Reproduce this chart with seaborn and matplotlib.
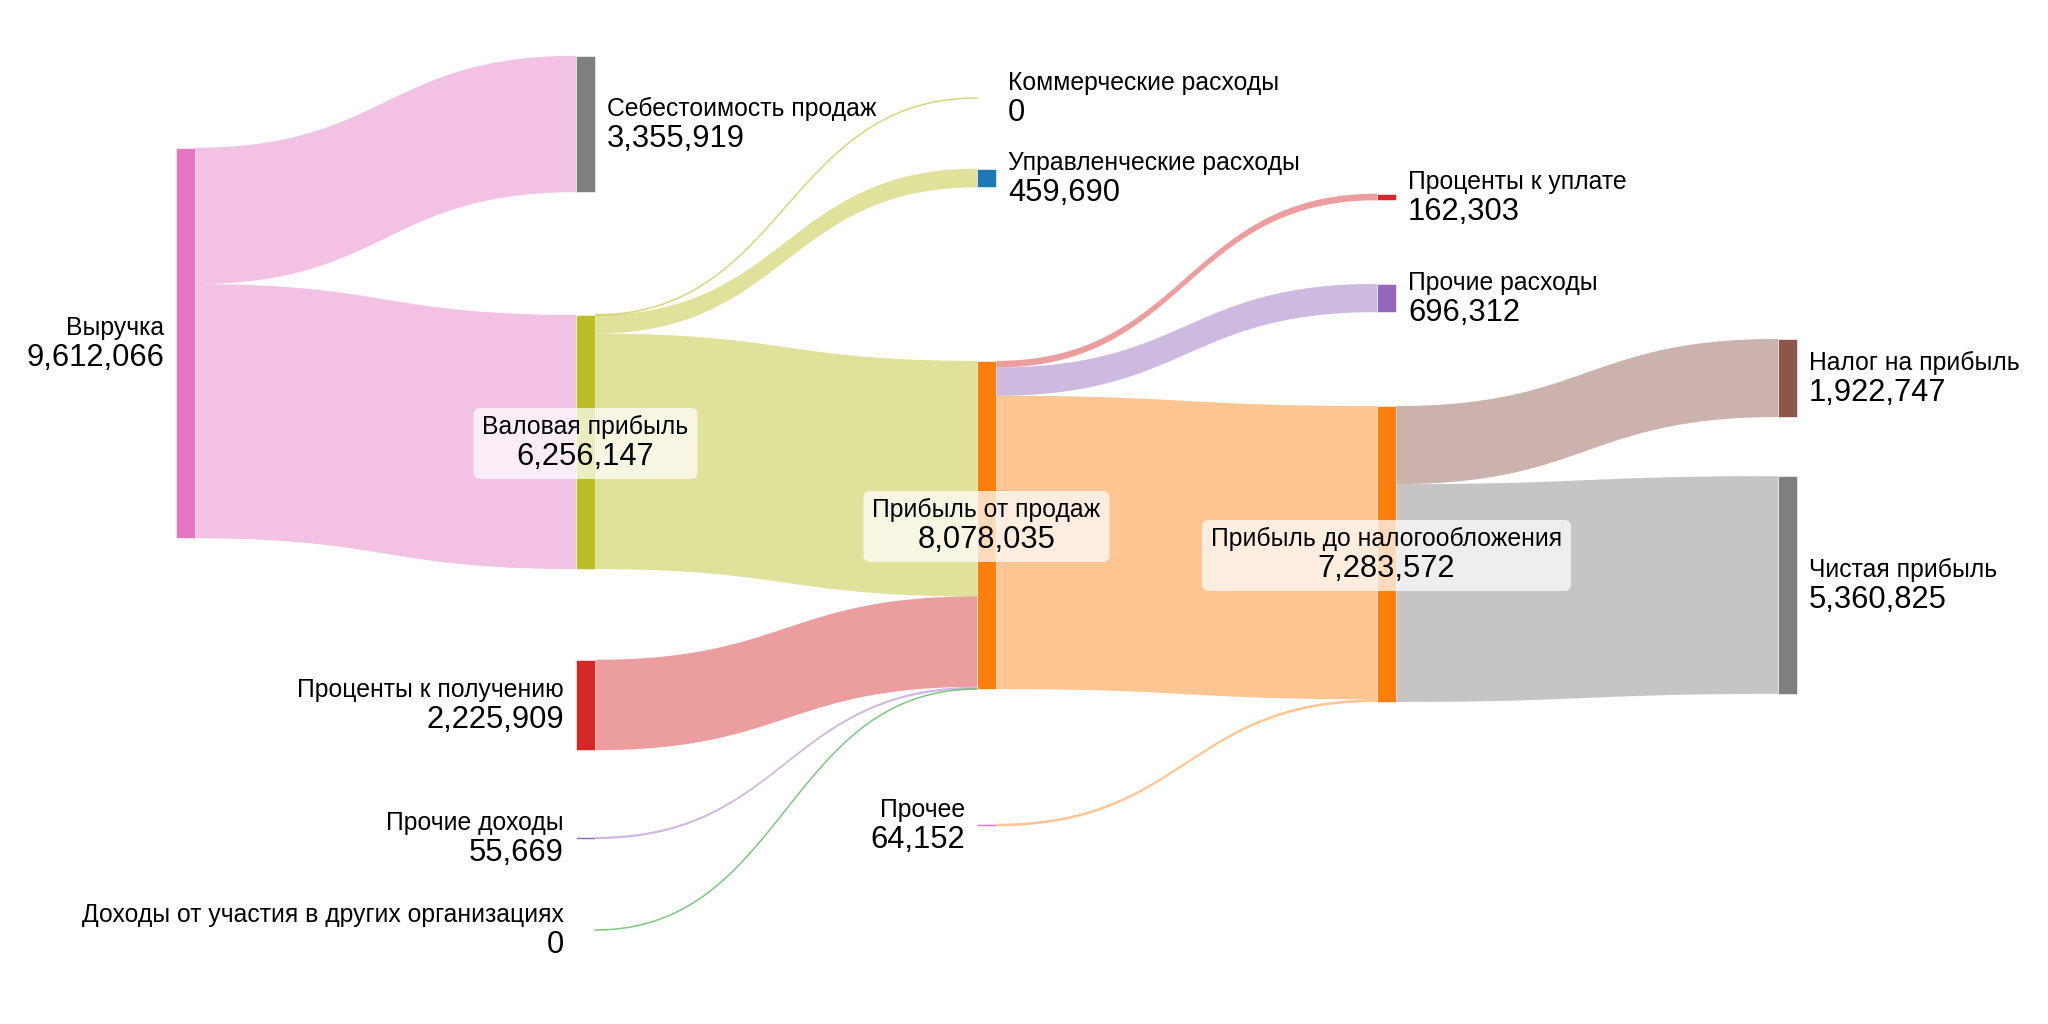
import numpy as np
import matplotlib
matplotlib.use("Agg")
import matplotlib.pyplot as plt
from matplotlib.patches import Rectangle, FancyBboxPatch
from matplotlib.transforms import Bbox
import seaborn as sns

# --- data ---
node_names = [
    "Выручка", "Себестоимость продаж", "Валовая прибыль", "Проценты к получению",
    "Прочие доходы", "Доходы от участия в других организациях", "Коммерческие расходы",
    "Управленческие расходы", "Прибыль от продаж", "Прочее", "Проценты к уплате",
    "Прочие расходы", "Прибыль до налогообложения", "Налог на прибыль", "Чистая прибыль",
]
node_values = [9612066, 3355919, 6256147, 2225909, 55669, 0, 0,
               459690, 8078035, 64152, 162303, 696312, 7283572, 1922747, 5360825]

link_src = [0, 0, 2, 2, 2, 3, 4, 5, 8, 8, 8, 9, 12, 12]
link_dst = [1, 2, 6, 7, 8, 8, 8, 8, 10, 11, 12, 12, 13, 14]
link_values = [3355919, 6256147, 0, 459690, 5796457, 2225909, 55669, 0,
               162303, 696312, 7219420, 64152, 1922747, 5360825]

# --- layout / style ---
W, H = 2048, 1024
col_x = [176, 576, 977, 1377, 1778]
node_w = 19
node_col = [0, 1, 1, 1, 1, 1, 2, 2, 2, 2, 3, 3, 3, 4, 4]
node_cy = [343, 124, 442, 705, 838, 930, 98, 178, 525, 825, 197, 298, 554, 378, 585]
label_side = ["left", "right", "center", "left", "left", "left", "right", "right",
              "center", "left", "right", "right", "center", "right", "right"]
px_per_unit = 390.5 / 9612066

pal = sns.color_palette("tab10")
blue, orange, green, red, purple, brown, pink, grey, olive = pal[:9]
node_colors = [pink, grey, olive, red, purple, green, olive, blue, orange,
               pink, red, purple, orange, brown, grey]
link_colors = [pink, pink, olive, olive, olive, red, purple, green,
               red, purple, orange, orange, brown, grey]

sns.set_theme(style="white")
plt.rcParams["font.family"] = ["Liberation Sans", "DejaVu Sans"]

fig = plt.figure(figsize=(W / 100, H / 100), dpi=100)
ax = fig.add_axes([0, 0, 1, 1])
ax.set_xlim(0, W)
ax.set_ylim(H, 0)
ax.axis("off")

heights = [v * px_per_unit for v in node_values]
tops = [cy - h / 2 for cy, h in zip(node_cy, heights)]
lefts = [col_x[c] for c in node_col]

# stack link ends on the nodes
out_off = list(tops)
in_off = list(tops)
src_y, dst_y = {}, {}
for i in sorted(range(len(link_values)), key=lambda k: node_cy[link_dst[k]]):
    s = link_src[i]
    h = link_values[i] * px_per_unit
    src_y[i] = (out_off[s], out_off[s] + h)
    out_off[s] += h
for i in sorted(range(len(link_values)), key=lambda k: node_cy[link_src[k]]):
    d = link_dst[i]
    h = link_values[i] * px_per_unit
    dst_y[i] = (in_off[d], in_off[d] + h)
    in_off[d] += h


def bezier(x0, x1, y0, y1, n=100):
    t = np.linspace(0, 1, n)
    xm = (x0 + x1) / 2
    x = (1 - t) ** 3 * x0 + 3 * (1 - t) ** 2 * t * xm + 3 * (1 - t) * t ** 2 * xm + t ** 3 * x1
    y = (1 - t) ** 3 * y0 + 3 * (1 - t) ** 2 * t * y0 + 3 * (1 - t) * t ** 2 * y1 + t ** 3 * y1
    return x, y


for i in range(len(link_values)):
    s, d = link_src[i], link_dst[i]
    x0 = lefts[s] + node_w
    x1 = lefts[d]
    (a0, b0), (a1, b1) = src_y[i], dst_y[i]
    if link_values[i] == 0:
        x, y = bezier(x0, x1, a0, a1)
        ax.plot(x, y, color=link_colors[i], alpha=0.6, lw=1.1, zorder=1)
        continue
    xt, yt = bezier(x0, x1, a0, a1)
    xb, yb = bezier(x0, x1, b0, b1)
    ax.fill(np.concatenate([xt, xb[::-1]]), np.concatenate([yt, yb[::-1]]),
            color=link_colors[i], alpha=0.45, lw=0, zorder=1)

for k in range(len(node_names)):
    if node_values[k] == 0:
        continue
    ax.add_patch(Rectangle((lefts[k], tops[k]), node_w, heights[k],
                           fc=node_colors[k], ec="white", lw=0.4, zorder=2))

# labels
name_fs, val_fs = 17.8, 22.2
boxed = []
for k, name in enumerate(node_names):
    cy = node_cy[k]
    val = f"{node_values[k]:,}"
    side = label_side[k]
    if side == "right":
        x, ha = lefts[k] + node_w + 12, "left"
    elif side == "left":
        x, ha = lefts[k] - 12, "right"
    else:
        x, ha = lefts[k] + node_w / 2, "center"
    t1 = ax.text(x, cy - 15, name, ha=ha, va="center", fontsize=name_fs, color="black", zorder=4)
    t2 = ax.text(x, cy + 15, val, ha=ha, va="center", fontsize=val_fs, color="black", zorder=4)
    if side == "center":
        boxed.append((t1, t2))

fig.canvas.draw()
renderer = fig.canvas.get_renderer()
inv = ax.transData.inverted()
pad = 9
for t1, t2 in boxed:
    bb = Bbox.union([t1.get_window_extent(renderer), t2.get_window_extent(renderer)])
    (x0, y0), (x1, y1) = inv.transform([[bb.x0, bb.y0], [bb.x1, bb.y1]])
    xa, xb = min(x0, x1) - pad, max(x0, x1) + pad
    ya, yb = min(y0, y1) - pad + 2, max(y0, y1) + pad - 2
    ax.add_patch(FancyBboxPatch((xa, ya), xb - xa, yb - ya,
                                boxstyle="round,pad=0,rounding_size=7",
                                fc="white", ec="none", alpha=0.72, zorder=3))

fig.savefig("out.png", dpi=100, facecolor="white")
